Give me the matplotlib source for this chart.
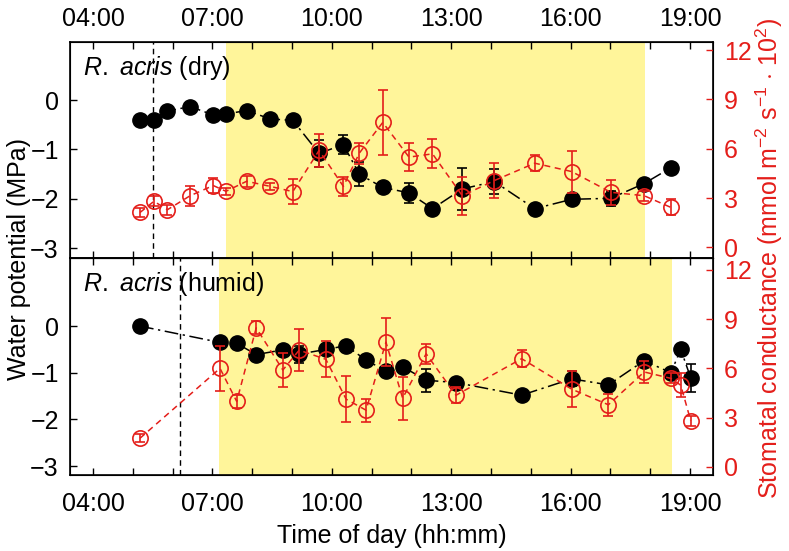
import matplotlib
matplotlib.use("Agg")
import matplotlib.pyplot as plt
import numpy as np

plt.rcParams['font.family'] = ['Liberation Sans', 'DejaVu Sans']
plt.rcParams['mathtext.fontset'] = 'custom'
plt.rcParams['mathtext.rm'] = 'Liberation Sans'
plt.rcParams['mathtext.it'] = 'Liberation Sans:italic'
plt.rcParams['axes.unicode_minus'] = True

# ---- data (hours of day) ----
dry_t = [5.18, 5.53, 5.87, 6.44, 7.02, 7.34, 7.86, 8.45, 9.02, 9.68, 10.29,
         10.69, 11.28, 11.94, 12.53, 13.28, 14.08, 15.10, 16.03, 17.01, 17.85, 18.52]
dry_wp = [-0.41, -0.41, -0.22, -0.13, -0.30, -0.28, -0.21, -0.38, -0.41, -1.08, -0.90,
          -1.50, -1.77, -1.88, -2.20, -1.80, -1.65, -2.20, -2.01, -1.99, -1.69, -1.37]
dry_wp_err = [0, 0, 0, 0, 0, 0, 0, 0, 0, 0.27, 0.2,
              0.25, 0.1, 0.2, 0, 0.42, 0.26, 0, 0, 0.15, 0.1, 0]
dry_gs = [2.12, 2.80, 2.29, 3.14, 3.76, 3.41, 4.02, 3.71, 3.39, 5.90, 3.71,
          5.73, 7.60, 5.49, 5.69, 3.14, 4.06, 5.12, 4.61, 3.35, 3.14, 2.43]
dry_gs_err = [0.3, 0.3, 0.3, 0.6, 0.43, 0.2, 0.35, 0.2, 0.77, 1.0, 0.6,
              0.63, 2.0, 0.84, 0.89, 1.15, 1.05, 0.48, 1.28, 0.77, 0.3, 0.49]

hum_t = [5.18, 7.19, 7.61, 8.10, 8.77, 9.18, 9.85, 10.36, 10.86, 11.36, 11.78,
         12.37, 13.12, 14.77, 16.03, 16.95, 17.85, 18.52, 18.77, 19.02]
hum_wp = [0.0, -0.35, -0.37, -0.61, -0.51, -0.60, -0.50, -0.42, -0.73, -0.96, -0.87,
          -1.16, -1.21, -1.48, -1.13, -1.26, -0.74, -1.00, -0.50, -1.11]
hum_wp_err = [0, 0, 0, 0, 0, 0.18, 0.1, 0, 0, 0, 0.08,
              0.25, 0, 0.1, 0.16, 0, 0, 0, 0, 0.3]
hum_gs = [1.74, 6.00, 3.98, 8.47, 5.90, 7.11, 6.55, 4.12, 3.45, 7.60, 4.18,
          6.89, 4.36, 6.59, 4.73, 3.78, 5.78, 5.39, 4.97, 2.80]
hum_gs_err = [0.25, 1.36, 0.4, 0.4, 1.06, 1.26, 1.1, 1.4, 0.7, 1.46, 1.3,
              0.6, 0.5, 0.53, 1.08, 0.68, 0.68, 0.3, 0.73, 0.3]

dry_sun = (7.34, 17.87)
hum_sun = (7.17, 18.54)
dry_dawn = 5.51
hum_dawn = 6.19

tick_hours = [4, 7, 10, 13, 16, 19]
tick_labels = ['04:00', '07:00', '10:00', '13:00', '16:00', '19:00']

RED = '#e41e1a'
FS = 18

fig = plt.figure(figsize=(7.89, 5.51), dpi=100)
ax1 = fig.add_axes([0.0887, 0.5318, 0.815, 0.392])
ax2 = fig.add_axes([0.0887, 0.138, 0.815, 0.3938])


def panel(ax, t, wp, wpe, gs, gse, sun, dawn, title, wlim, glim):
    ax.axvspan(sun[0], sun[1], color='#fff59a', lw=0, zorder=0)
    ax.axvline(dawn, color='k', lw=1, ls=(0, (4, 3)), zorder=1)
    ax.plot(t, wp, color='k', lw=1.1, ls=(0, (9, 3, 1.5, 3)), zorder=2)
    ax.errorbar(t, wp, yerr=wpe, fmt='o', color='k', ms=11, capsize=3.5,
                elinewidth=1.2, capthick=1.2, zorder=3)
    ax.set_xlim(3.42, 19.58)
    ax.set_ylim(*wlim)
    ax.set_yticks([0, -1, -2, -3])
    ax.set_xticks(tick_hours)
    ax.set_xticks(np.arange(4, 20), minor=True)
    ax.tick_params(which='both', direction='in', top=True, bottom=True,
                   length=5, width=1, labelsize=FS)
    ax.tick_params(axis='y', left=True, right=False, pad=8)
    ax.text(0.02, 0.88, r'$\it{R.\ acris}$' + ' ' + title, transform=ax.transAxes,
            fontsize=FS, va='center', ha='left')
    for s in ax.spines.values():
        s.set_linewidth(1.2)

    tw = ax.twinx()
    tw.plot(t, gs, color=RED, lw=1.1, ls=(0, (4, 3)), zorder=2)
    tw.errorbar(t, gs, yerr=gse, fmt='o', color=RED, mfc='none', mec=RED, ms=11,
                mew=1.2, capsize=3.5, elinewidth=1.2, capthick=1.2, zorder=3)
    tw.set_ylim(*glim)
    tw.set_yticks([0, 3, 6, 9, 12])
    tw.tick_params(axis='y', direction='in', length=5, width=1, labelsize=FS,
                   colors=RED, pad=8)
    tw.spines['right'].set_color('k')
    return tw


t1 = panel(ax1, dry_t, dry_wp, dry_wp_err, dry_gs, dry_gs_err, dry_sun, dry_dawn,
           '(dry)', (-3.2, 1.18), (-0.65, 12.5))
t2 = panel(ax2, hum_t, hum_wp, hum_wp_err, hum_gs, hum_gs_err, hum_sun, hum_dawn,
           '(humid)', (-3.19, 1.46), (-0.5, 12.73))

ax1.tick_params(axis='x', labelbottom=False, labeltop=True, pad=8)
ax1.set_xticklabels(tick_labels)
ax2.set_xticklabels(tick_labels)
ax2.tick_params(axis='x', pad=12)
ax2.set_xlabel('Time of day (hh:mm)', fontsize=FS, labelpad=6)

fig.text(0.024, 0.53, 'Water potential (MPa)', rotation=90, fontsize=FS,
         ha='center', va='center')
fig.text(0.975, 0.53,
         r'Stomatal conductance (mmol m$^{-2}$ s$^{-1}$ $\cdot$ 10$^{2}$)',
         rotation=90, fontsize=FS, ha='center', va='center', color=RED)

fig.savefig('out.png', dpi=100)
